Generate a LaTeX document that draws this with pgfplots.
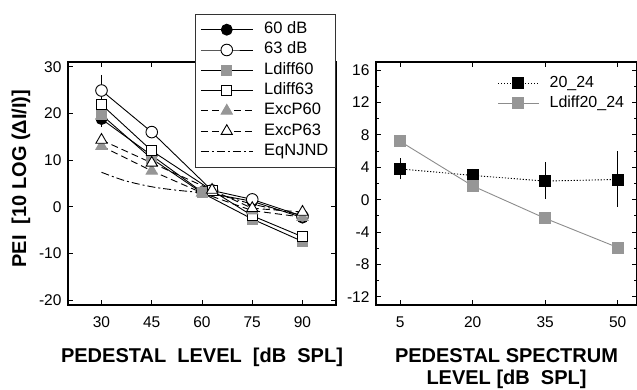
\documentclass[border=0pt]{standalone}
\usepackage{fontspec}
\setmainfont{Liberation Sans}
\usepackage{pgfplots}
\pgfplotsset{compat=1.18}
\definecolor{mgray}{RGB}{150,150,150}
\definecolor{lgray}{RGB}{140,140,140}
\pgfplotsset{
  base/.style={
    scale only axis, height=243pt,
    axis line style={line width=1.1pt},
    tick style={line width=0.9pt,black},
    major tick length=5pt, minor tick length=3pt,
    tick align=inside,
    ticklabel style={font=\fontsize{15.5}{18}\selectfont},
    /pgf/number format/assume math mode=true,
    yticklabel style={xshift=-3pt},
    xticklabel style={yshift=-8pt},
    label style={font=\fontsize{20}{20}\selectfont\bfseries},
    every axis plot/.append style={line width=0.9pt},
    error bars/error bar style={line width=0.9pt, solid},
    error bars/error mark options={line width=0.9pt, mark size=4pt, solid},
  },
}
\begin{document}
\begin{tikzpicture}
\path[use as bounding box] (0,0) rectangle (637pt,389pt);
\begin{axis}[base, at={(68pt,84pt)}, anchor=south west, width=268pt,
  xmin=20, xmax=100, ymin=-21, ymax=31,
  xtick={30,45,60,75,90}, ytick={-20,-10,0,10,20,30},
  xlabel={PEDESTAL\ \ LEVEL\ \ [dB\ \ SPL]},
  ylabel={PEI\ \ [10 LOG (ΔI/I)]},
  xlabel style={at={(axis description cs:0.5,0)}, anchor=center, yshift=-52pt},
  ylabel style={at={(axis description cs:-0.1754,0.52)}, anchor=center},
  legend style={at={(0.474,1.198)}, anchor=north west, draw=black!80, line width=0.6pt, fill=white,
    font=\fontsize{16.5}{19}\selectfont, inner xsep=5pt, inner ysep=6pt, row sep=1.3pt, column sep=9pt,
    nodes={inner sep=2pt, text height=11.5pt, text depth=3.5pt}, cells={anchor=west}},
  legend image code/.code={\draw[mark repeat=2,mark phase=2,#1] plot coordinates {(0pt,0pt) (26pt,0pt) (52pt,0pt)};},
]
\addplot[forget plot, black, mark=none, error bars/.cd, y dir=both, y explicit] coordinates {(30,18.8) +- (0,0.8)};
\addplot[forget plot, black, mark=none, error bars/.cd, y dir=both, y explicit] coordinates {(30,24.9) +- (0,2.5)};
\addplot[black, mark=*, mark size=5.5pt, mark options={fill=black, draw=black}] coordinates {(30,18.8)(45,11)(60,3.2)(75,1.2)(90,-2.3)};
\addlegendentry{60 dB}
\addplot[black, mark=*, mark size=5.8pt, mark options={fill=white, draw=black}] coordinates {(30,24.9)(45,16)(63,3.5)(75,1.6)(90,-2)};
\addlegendentry{63 dB}
\addplot[black, mark=square*, mark size=5pt, mark options={fill=mgray, draw=mgray}] coordinates {(30,19.7)(45,10.3)(60,3)(75,-2.6)(90,-7.4)};
\addlegendentry{Ldiff60}
\addplot[black, mark=square*, mark size=5pt, mark options={fill=white, draw=black}] coordinates {(30,21.9)(45,12)(63,3.5)(75,-1.9)(90,-6.4)};
\addlegendentry{Ldiff63}
\addplot[black, dash pattern=on 7pt off 4pt, mark=triangle*, mark size=6.5pt, mark options={solid, fill=mgray, draw=mgray}] coordinates {(30,13)(45,7.7)(60,3)(75,-0.8)(90,-2.2)};
\addlegendentry{ExcP60}
\addplot[black, dash pattern=on 7pt off 4pt, mark=triangle*, mark size=6.5pt, mark options={solid, fill=white, draw=black}] coordinates {(30,14.3)(45,9.4)(63,3.6)(75,-0.3)(90,-1.1)};
\addlegendentry{ExcP63}
\addplot[black, smooth, dash pattern=on 8pt off 3pt on 2pt off 3pt, mark=none] coordinates {(30,7.4)(37,5.6)(45,4.3)(52,3.6)(60,3.0)(68,2.0)(75,0.6)(90,-1.8)};
\addlegendentry{EqNJND}
\end{axis}
\begin{axis}[base, at={(376pt,84pt)}, anchor=south west, width=261pt,
  xmin=0, xmax=54, ymin=-13, ymax=17,
  xtick={5,20,35,50}, ytick={-12,-8,-4,0,4,8,12,16}, minor y tick num=1,
  xlabel={PEDESTAL SPECTRUM\\[2pt]LEVEL [dB\ \ SPL]},
  xlabel style={at={(axis description cs:0.5,0)}, anchor=center, yshift=-64pt, align=center},
  legend style={at={(0.458,0.96)}, anchor=north west, draw=none, fill=none,
    font=\fontsize{16}{19}\selectfont, inner xsep=2pt, inner ysep=2pt, row sep=1pt, column sep=8pt,
    nodes={inner sep=2pt, text height=11.5pt, text depth=3.5pt}, cells={anchor=west}},
  legend image code/.code={\draw[mark repeat=2,mark phase=2,#1] plot coordinates {(0pt,0pt) (20pt,0pt) (41pt,0pt)};},
]
\addplot[black, dash pattern=on 1.2pt off 1.8pt, mark=square*, mark size=5.5pt, mark options={solid, fill=black, draw=black},
  error bars/.cd, y dir=both, y explicit] coordinates {(5,3.8) +- (0,0.8) (20,3.0) +- (0,0.3) (35,2.3) += (0,1.8) -= (0,1.7) (50,2.5) += (0,3.0) -= (0,2.9)};
\addlegendentry{20\_24}
\addplot[lgray, mark=square*, mark size=5.5pt, mark options={fill=mgray, draw=mgray}] coordinates {(5,7.2)(20,1.7)(35,-2.3)(50,-5.9)};
\addlegendentry{Ldiff20\_24}
\end{axis}
\end{tikzpicture}
\end{document}
